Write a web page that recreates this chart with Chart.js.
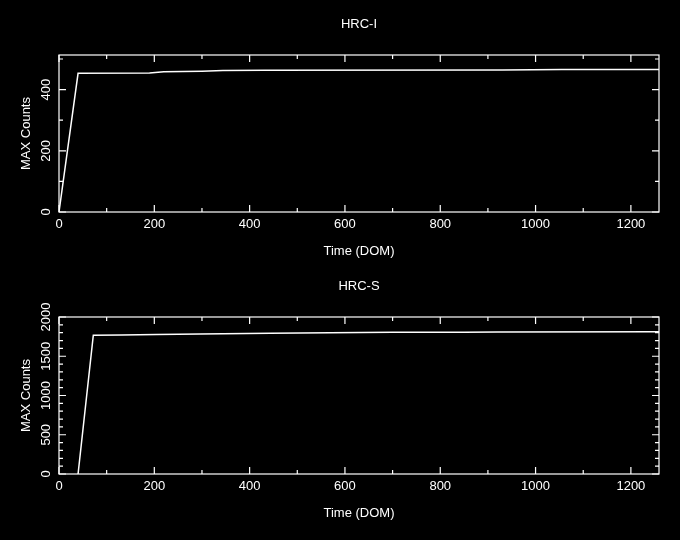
<!DOCTYPE html>
<html lang="en">
<head>
<meta charset="UTF-8">
<title>HRC MAX Counts</title>
<script src="https://cdn.jsdelivr.net/npm/chart.js"></script>
<style>
  body { margin: 0; background: #000; width: 680px; height: 540px; position: relative; overflow: hidden; }
  canvas { position: absolute; left: 0; }
  #hrcI { top: 0; }
  #hrcS { top: 262px; }
</style>
</head>
<body>
<canvas id="hrcI" width="680" height="270"></canvas>
<canvas id="hrcS" width="680" height="270"></canvas>

<script>
// shared x axis (Time, DOM)
const xTicks = [0, 200, 400, 600, 800, 1000, 1200];
const xMinorStep = 100;
const xMax = 1259;

// HRC-I
const hrcIDom    = [0, 40, 190, 220, 300, 344, 430, 930, 1055, 1259];
const hrcICounts = [0, 453, 454, 458, 460, 462, 463, 464, 466, 466];
const hrcIYTicks = [0, 200, 400];
const hrcIYMax = 513;

// HRC-S
const hrcSDom    = [40, 72, 131, 205, 296, 443, 569, 700, 850, 920, 1259];
const hrcSCounts = [0, 1767, 1771, 1776, 1784, 1792, 1800, 1805, 1806, 1810, 1813];
const hrcSYTicks = [0, 500, 1000, 1500, 2000];
const hrcSYMax = 2000;

const yMinorStep = 100;
const font = { family: '"Liberation Sans", Arial, sans-serif', size: 13 };

// box around the plot, inward ticks on all sides, rotated y tick labels
const boxTicks = {
  id: 'boxTicks',
  afterDraw(chart) {
    const { ctx, chartArea: a, scales: { x, y } } = chart;
    const yt = chart.options.yTickList;
    ctx.save();
    ctx.strokeStyle = '#fff';
    ctx.lineWidth = 1.2;
    ctx.strokeRect(a.left, a.top, a.right - a.left, a.bottom - a.top);
    ctx.beginPath();
    for (let v = 0; v <= x.max; v += xMinorStep) {
      const px = x.getPixelForValue(v);
      const len = xTicks.includes(v) ? 7 : 4;
      ctx.moveTo(px, a.bottom); ctx.lineTo(px, a.bottom - len);
      ctx.moveTo(px, a.top); ctx.lineTo(px, a.top + len);
    }
    for (let v = 0; v <= y.max; v += yMinorStep) {
      const py = y.getPixelForValue(v);
      const len = yt.includes(v) ? 7 : 4;
      ctx.moveTo(a.left, py); ctx.lineTo(a.left + len, py);
      ctx.moveTo(a.right, py); ctx.lineTo(a.right - len, py);
    }
    ctx.stroke();

    // y labels read bottom-to-top
    ctx.fillStyle = '#fff';
    ctx.font = `${font.size}px ${font.family}`;
    ctx.textAlign = 'center';
    ctx.textBaseline = 'middle';
    yt.forEach(v => {
      ctx.save();
      ctx.translate(a.left - 13, y.getPixelForValue(v));
      ctx.rotate(-Math.PI / 2);
      ctx.fillText(String(v), 0, 0);
      ctx.restore();
    });
    ctx.restore();
  }
};

function makeChart(id, title, dom, counts, yMax, yTicks) {
  const ctx = document.getElementById(id).getContext('2d');
  return new Chart(ctx, {
    type: 'line',
    data: {
      datasets: [{
        data: dom.map((d, i) => ({ x: d, y: counts[i] })),
        borderColor: '#fff',
        borderWidth: 1.5,
        pointRadius: 0,
        tension: 0
      }]
    },
    options: {
      responsive: false,
      animation: false,
      yTickList: yTicks,
      layout: { padding: { left: 0, right: 21, top: 0, bottom: 0 } },
      plugins: {
        legend: { display: false },
        tooltip: { enabled: false },
        title: {
          display: true,
          text: title,
          color: '#fff',
          fullSize: false,
          font: { ...font, weight: 'normal' },
          padding: { top: 17, bottom: 22.4 }
        }
      },
      scales: {
        x: {
          type: 'linear',
          min: 0,
          max: xMax,
          afterBuildTicks: s => { s.ticks = xTicks.map(v => ({ value: v })); },
          afterFit: s => { s.height = 58; },
          grid: { display: false, drawTicks: false },
          border: { display: false },
          ticks: { color: '#fff', font, padding: 5, maxRotation: 0, autoSkip: false, callback: v => String(v) },
          title: { display: true, text: 'Time (DOM)', color: '#fff', font, padding: { top: 0, bottom: 11 } }
        },
        y: {
          type: 'linear',
          min: 0,
          max: yMax,
          afterBuildTicks: s => { s.ticks = yTicks.map(v => ({ value: v })); },
          afterFit: s => { s.width = 59; },
          grid: { display: false, drawTicks: false },
          border: { display: false },
          ticks: { display: false },
          title: { display: true, text: 'MAX Counts', color: '#fff', font, padding: { top: 19, bottom: 0 } }
        }
      }
    },
    plugins: [boxTicks]
  });
}

makeChart('hrcI', 'HRC-I', hrcIDom, hrcICounts, hrcIYMax, hrcIYTicks);
makeChart('hrcS', 'HRC-S', hrcSDom, hrcSCounts, hrcSYMax, hrcSYTicks);
</script>
</body>
</html>
